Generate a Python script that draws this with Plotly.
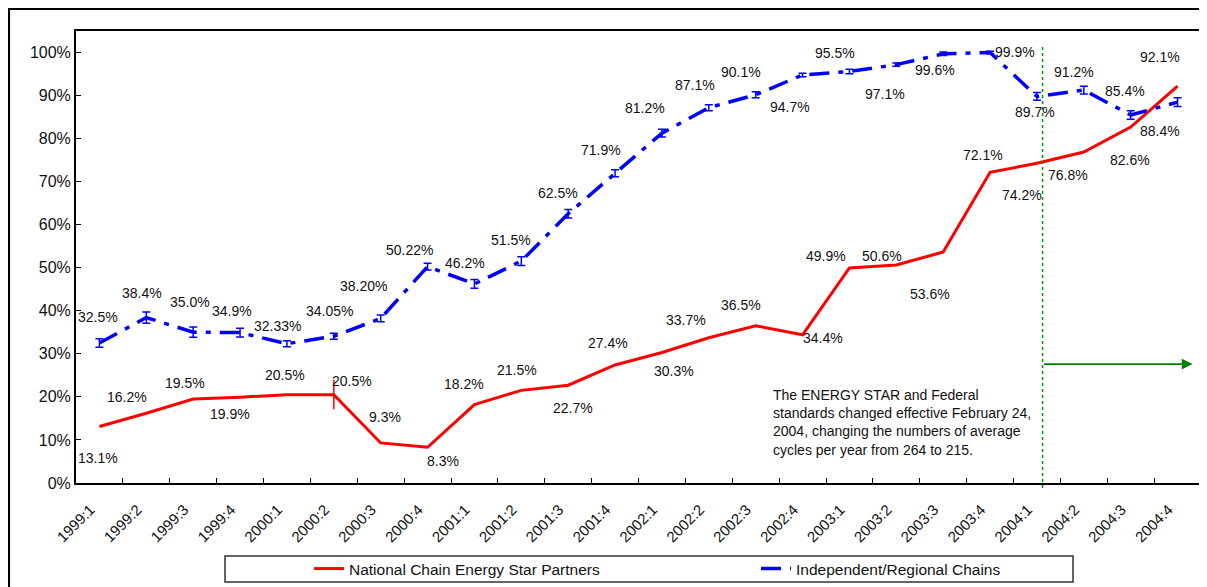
import plotly.graph_objects as go

quarters = ["1999:1", "1999:2", "1999:3", "1999:4", "2000:1", "2000:2", "2000:3", "2000:4",
            "2001:1", "2001:2", "2001:3", "2001:4", "2002:1", "2002:2", "2002:3", "2002:4",
            "2003:1", "2003:2", "2003:3", "2003:4", "2004:1", "2004:2", "2004:3", "2004:4"]

national = [13.1, 16.2, 19.5, 19.9, 20.5, 20.5, 9.3, 8.3, 18.2, 21.5, 22.7, 27.4,
            30.3, 33.7, 36.5, 34.4, 49.9, 50.6, 53.6, 72.1, 74.2, 76.8, 82.6, 92.1]
national_err = [0, 0, 0, 0, 0, 3.4, 0, 0, 0, 0, 0, 0,
                0, 0, 0, 0, 0, 0, 0, 0, 0, 0, 0, 0]
national_labels = ["13.1%", "16.2%", "19.5%", "19.9%", "20.5%", "20.5%", "9.3%", "8.3%",
                   "18.2%", "21.5%", "22.7%", "27.4%", "30.3%", "33.7%", "36.5%", "34.4%",
                   "49.9%", "50.6%", "53.6%", "72.1%", "74.2%", "76.8%", "82.6%", "92.1%"]

independent = [32.5, 38.4, 35.0, 34.9, 32.33, 34.05, 38.20, 50.22, 46.2, 51.5, 62.5, 71.9,
               81.2, 87.1, 90.1, 94.7, 95.5, 97.1, 99.6, 99.9, 89.7, 91.2, 85.4, 88.4]
independent_err = [1.0, 1.3, 1.2, 1.0, 0.7, 0.7, 0.8, 0.8, 1.0, 1.0, 1.0, 0.8,
                   0.9, 0.7, 0.7, 0.4, 0.5, 0.4, 0.4, 0.3, 0.9, 0.9, 1.0, 1.0]
independent_labels = ["32.5%", "38.4%", "35.0%", "34.9%", "32.33%", "34.05%", "38.20%", "50.22%",
                      "46.2%", "51.5%", "62.5%", "71.9%", "81.2%", "87.1%", "90.1%", "94.7%",
                      "95.5%", "97.1%", "99.6%", "99.9%", "89.7%", "91.2%", "85.4%", "88.4%"]

# label offsets in pixels (dx right, dy down)
national_off = [(-1, 31), (-19, -16), (-8, -16), (-10, 17), (-2, -20), (18, -14), (4, -26), (15, 14),
                (-10, -21), (-4, -20), (5, 23), (-7, -22), (12, 19), (-23, -18), (-15, -21), (20, 3),
                (-23, -12), (-14, -9), (-13, 42), (-7, -17), (-15, 32), (-16, 23), (-1, 33), (-18, -29)]
independent_off = [(-1, -26), (-4, -25), (-3, -30), (-8, -22), (-9, -18), (-4, -25), (-17, -32), (-18, -17),
                   (-9, -21), (-10, -21), (-10, -21), (-14, -23), (-17, -25), (-14, -23), (-15, -23), (-13, 32),
                   (-14, -19), (-11, 29), (-8, 16), (25, -1), (-2, 16), (-10, -18), (-6, -24), (-18, 29)]

note_text = ("The ENERGY STAR and Federal<br>standards changed effective February 24,<br>"
             "2004, changing the numbers of average<br>cycles per year from 264 to 215.")
change_pos = 20.12
arrow_end = 23.32
arrow_level = 27.6

FONT = "Liberation Sans, Arial, sans-serif"

fig = go.Figure()
fig.add_trace(go.Scatter(
    x=quarters, y=national, mode="lines", name="National Chain Energy Star Partners",
    line=dict(color="#FF0000", width=3),
    error_y=dict(type="data", array=national_err, visible=True, color="#FF0000",
                 thickness=1.5, width=0),
))
fig.add_trace(go.Scatter(
    x=quarters, y=independent, mode="lines", name="Independent/Regional Chains",
    line=dict(color="#0000FF", width=3.5, dash="20px,9px,5px,9px"),
    error_y=dict(type="data", array=independent_err, visible=True, color="#0000FF",
                 thickness=1.5, width=4),
))

annotations = []
for q, v, t, (dx, dy) in zip(quarters, national, national_labels, national_off):
    annotations.append(dict(x=q, y=v, xref="x", yref="y", text=t, showarrow=False,
                            xshift=dx, yshift=-dy, font=dict(size=14, color="#111", family=FONT)))
for q, v, t, (dx, dy) in zip(quarters, independent, independent_labels, independent_off):
    annotations.append(dict(x=q, y=v, xref="x", yref="y", text=t, showarrow=False,
                            xshift=dx, yshift=-dy, font=dict(size=14, color="#111", family=FONT)))

annotations.append(dict(x=(771 - 76) / 1125, y=(483 - 385) / 452, xref="paper", yref="paper",
                        xanchor="left", yanchor="top", align="left", showarrow=False,
                        text=note_text, font=dict(size=14, color="#111", family=FONT)))
annotations.append(dict(x=arrow_end, y=arrow_level, ax=change_pos, ay=arrow_level,
                        xref="x", yref="y", axref="x", ayref="y", text="", showarrow=True,
                        arrowhead=2, arrowsize=1.2, arrowwidth=1.8, arrowcolor="#008000"))

shapes = [
    dict(type="line", xref="x", yref="paper", x0=change_pos, x1=change_pos,
         y0=-0.011, y1=(483 - 45) / 452, line=dict(color="#009900", width=1.5, dash="dot")),
    # outer frame
    dict(type="line", xref="paper", yref="paper", x0=-0.0604, x1=1.1, y0=1.0509, y1=1.0509,
         line=dict(color="black", width=4)),
    dict(type="line", xref="paper", yref="paper", x0=-0.0604, x1=-0.0604, y0=1.0509, y1=-0.4,
         line=dict(color="black", width=4)),
    # legend box
    dict(type="rect", xref="paper", yref="paper", x0=(225 - 76) / 1125, x1=(1073 - 76) / 1125,
         y0=(483 - 582) / 452, y1=(483 - 556) / 452, line=dict(color="#333", width=1.5)),
]

# page body has an 8px margin, so the figure is sized/offset to fill the 1207x587 window
fig.update_layout(
    width=1199, height=579,
    margin=dict(l=68, r=6, t=23, b=104, autoexpand=False),
    paper_bgcolor="white", plot_bgcolor="white",
    font=dict(family=FONT, color="#111"),
    showlegend=True,
    legend=dict(orientation="h", x=(309 - 76) / 1125, y=(483 - 569) / 452,
                xanchor="left", yanchor="middle", entrywidth=402, entrywidthmode="pixels",
                font=dict(size=15.5, family=FONT, color="#111"), bgcolor="rgba(0,0,0,0)"),
    xaxis=dict(type="category", range=[-0.5, 23.5], showgrid=False, showline=True,
               linecolor="black", linewidth=2, mirror=True, ticks="inside", ticklen=5,
               tickcolor="black", tickson="boundaries", tickangle=-45, automargin=False,
               ticklabelstandoff=10, ticklabelshift=-9,
               tickfont=dict(size=15, family=FONT, color="#111"), zeroline=False),
    yaxis=dict(range=[0, 104.9], tickvals=[0, 10, 20, 30, 40, 50, 60, 70, 80, 90, 100],
               ticktext=["0%", "10%", "20%", "30%", "40%", "50%", "60%", "70%", "80%", "90%", "100%"],
               showgrid=False, showline=True, linecolor="black", linewidth=2, mirror=True,
               ticks="inside", ticklen=5, tickcolor="black", zeroline=False, automargin=False,
               tickfont=dict(size=16, family=FONT, color="#111")),
    annotations=annotations,
    shapes=shapes,
)

fig.write_html("out.html")
